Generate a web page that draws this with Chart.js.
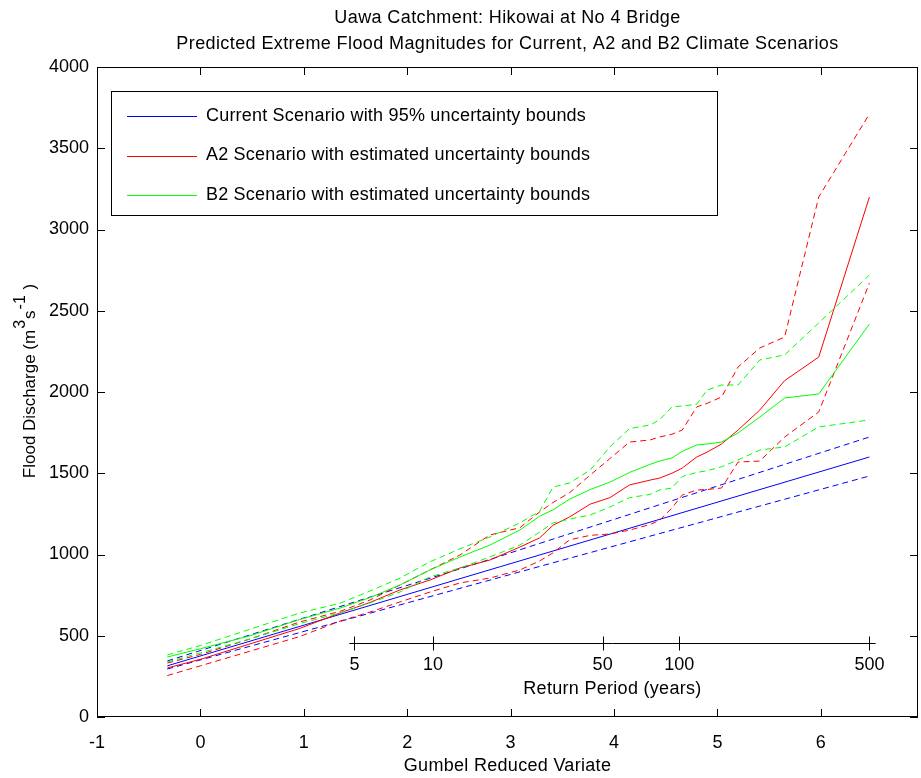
<!DOCTYPE html>
<html>
<head>
<meta charset="utf-8">
<script src="https://cdn.jsdelivr.net/npm/chart.js@4.4.1/dist/chart.umd.min.js"></script>
<style>
html, body { margin: 0; padding: 0; background: #fff; }
#wrap { width: 921px; height: 778px; }
</style>
</head>
<body>
<div id="wrap"><canvas id="chart" width="921" height="778"></canvas></div>
<script>
// Gumbel reduced variate positions of the scenario estimates
const gumbelX = [-0.32, 0, 0.48, 0.96, 1.35, 1.64, 1.93, 2.22, 2.51, 2.80, 3.09, 3.28, 3.41, 3.57, 3.77, 3.96, 4.15, 4.35, 4.44, 4.56, 4.66, 4.80, 4.90, 5.04, 5.20, 5.41, 5.65, 5.98, 6.47];

// A2 scenario (m3/s)
const a2Upper = [332, 385, 480, 585, 650, 720, 812, 905, 997, 1120, 1165, 1262, 1320, 1380, 1489, 1590, 1692, 1705, 1723, 1740, 1766, 1908, 1930, 1969, 2154, 2271, 2338, 3200, 3711];
const a2Mid   = [302, 355, 450, 545, 640, 705, 782, 843, 917, 966, 1046, 1102, 1180, 1231, 1310, 1350, 1428, 1458, 1470, 1500, 1532, 1600, 1630, 1680, 1766, 1889, 2070, 2215, 3200];
const a2Lower = [255, 315, 405, 495, 590, 646, 708, 769, 825, 855, 905, 960, 1010, 1090, 1118, 1126, 1150, 1185, 1210, 1286, 1366, 1397, 1400, 1409, 1569, 1575, 1723, 1877, 2670];

// B2 scenario (m3/s)
const b2Upper = [382, 440, 540, 640, 700, 775, 855, 955, 1035, 1108, 1195, 1265, 1415, 1440, 1520, 1662, 1775, 1797, 1828, 1908, 1914, 1925, 2012, 2043, 2043, 2197, 2228, 2425, 2720];
const b2Mid   = [369, 420, 500, 600, 670, 735, 812, 905, 985, 1058, 1151, 1235, 1275, 1340, 1400, 1445, 1505, 1555, 1575, 1594, 1635, 1674, 1680, 1692, 1748, 1846, 1963, 1988, 2418];
const b2Lower = [338, 395, 480, 575, 640, 702, 769, 862, 917, 985, 1058, 1138, 1194, 1218, 1243, 1292, 1350, 1370, 1397, 1409, 1480, 1505, 1515, 1540, 1582, 1643, 1662, 1785, 1828];

// Current scenario (straight Gumbel fit)
const currentX     = [-0.32, 2.9, 6.47];
const currentUpper = [345, 990, 1723];
const currentMid   = [315, 925, 1600];
const currentLower = [295, 860, 1483];

// Return period scale drawn inside the plot
const returnPeriods   = ['5', '10', '50', '100', '500'];
const returnPeriodPos = [1.49, 2.25, 3.89, 4.63, 6.47];
const returnAxisRange = [1.44, 6.53];
const returnAxisValue = 455;

const legendLabels = [
	'Current Scenario with 95% uncertainty bounds',
	'A2 Scenario with estimated uncertainty bounds',
	'B2 Scenario with estimated uncertainty bounds'
];

const BLUE = '#0000ff', RED = '#ff0000', GREEN = '#00ff00';
const FONT = '"Liberation Sans", Arial, Helvetica, sans-serif';
const FS = 18;
const DASH = [6, 4];

const pts = (xs, ys) => xs.map((x, i) => ({ x, y: ys[i] }));
const line = (data, color, dashed) => ({
	data, borderColor: color, backgroundColor: color, borderWidth: 1,
	borderDash: dashed ? DASH : [], pointRadius: 0, showLine: true, tension: 0, fill: false
});

const decor = {
	id: 'decor',
	afterDatasetsDraw(chart) {
		const ctx = chart.ctx, a = chart.chartArea;
		const xs = chart.scales.x, ys = chart.scales.y;
		ctx.save();
		ctx.strokeStyle = '#000';
		ctx.lineWidth = 1;
		ctx.setLineDash([]);
		// frame
		ctx.strokeRect(Math.round(a.left) + 0.5, Math.round(a.top) + 0.5, Math.round(a.right - a.left) - 1, Math.round(a.bottom - a.top) - 1);
		// inward ticks
		ctx.beginPath();
		xs.ticks.forEach(t => {
			const px = Math.round(xs.getPixelForValue(t.value)) + 0.5;
			ctx.moveTo(px, a.bottom); ctx.lineTo(px, a.bottom - 8);
			ctx.moveTo(px, a.top); ctx.lineTo(px, a.top + 8);
		});
		ys.ticks.forEach(t => {
			const py = Math.round(ys.getPixelForValue(t.value)) + 0.5;
			ctx.moveTo(a.left, py); ctx.lineTo(a.left + 8, py);
			ctx.moveTo(a.right, py); ctx.lineTo(a.right - 8, py);
		});
		ctx.stroke();

		// return period axis
		const ry = Math.round(ys.getPixelForValue(returnAxisValue)) + 0.5;
		ctx.beginPath();
		ctx.moveTo(xs.getPixelForValue(returnAxisRange[0]), ry);
		ctx.lineTo(xs.getPixelForValue(returnAxisRange[1]), ry);
		returnPeriodPos.forEach(v => {
			const px = Math.round(xs.getPixelForValue(v)) + 0.5;
			ctx.moveTo(px, ry - 7); ctx.lineTo(px, ry + 7);
		});
		ctx.stroke();
		ctx.fillStyle = '#000';
		ctx.font = FS + 'px ' + FONT;
		ctx.textAlign = 'center';
		ctx.textBaseline = 'middle';
		returnPeriods.forEach((lab, i) => ctx.fillText(lab, xs.getPixelForValue(returnPeriodPos[i]), ry + 22));
		ctx.letterSpacing = '0.3px';
		ctx.fillText('Return Period (years)', xs.getPixelForValue((returnAxisRange[0] + returnAxisRange[1]) / 2), ry + 46);

		// titles
		const cx = (a.left + a.right) / 2;
		ctx.fillText('Gumbel Reduced Variate', cx, 766);
		ctx.letterSpacing = '0.4px';
		ctx.fillText('Uawa Catchment: Hikowai at No 4 Bridge', cx, 18);
		ctx.fillText('Predicted Extreme Flood Magnitudes for Current, A2 and B2 Climate Scenarios', cx, 44);
		ctx.letterSpacing = '0px';

		// y axis title with superscripts
		ctx.save();
		ctx.translate(30, 381);
		ctx.rotate(-Math.PI / 2);
		const parts = [['Flood Discharge (m', 0], ['3', 1], ['s', 0], ['-1', 1], [' )', 0]];
		const fnt = p => (p[1] ? 16 : 17) + 'px ' + FONT;
		let total = 0;
		parts.forEach(p => { ctx.font = fnt(p); total += ctx.measureText(p[0]).width + (p[1] ? 2 : 0); });
		let x0 = -total / 2;
		ctx.textAlign = 'left';
		parts.forEach(p => {
			ctx.font = fnt(p);
			ctx.fillText(p[0], x0 + (p[1] ? 1 : 0), p[1] ? -9 : 0);
			x0 += ctx.measureText(p[0]).width + (p[1] ? 2 : 0);
		});
		ctx.restore();

		// legend
		const lx = 111, ly = 91, lw = 606, lh = 124;
		ctx.fillStyle = '#fff';
		ctx.fillRect(lx, ly, lw, lh);
		ctx.strokeStyle = '#000';
		ctx.strokeRect(lx + 0.5, ly + 0.5, lw, lh);
		const colors = [BLUE, RED, GREEN];
		ctx.textAlign = 'left';
		ctx.font = FS + 'px ' + FONT;
		ctx.letterSpacing = '0.2px';
		legendLabels.forEach((lab, i) => {
			const yy = 116 + i * 39.5;
			ctx.strokeStyle = colors[i];
			ctx.beginPath();
			ctx.moveTo(127, Math.round(yy) + 0.5); ctx.lineTo(197, Math.round(yy) + 0.5);
			ctx.stroke();
			ctx.fillStyle = '#000';
			ctx.fillText(lab, 206, yy);
		});
		ctx.letterSpacing = '0px';
		ctx.restore();
	}
};

new Chart(document.getElementById('chart').getContext('2d'), {
	type: 'scatter',
	data: {
		datasets: [
			line(pts(gumbelX, b2Mid), GREEN, false),
			line(pts(gumbelX, b2Upper), GREEN, true),
			line(pts(gumbelX, b2Lower), GREEN, true),
			line(pts(gumbelX, a2Mid), RED, false),
			line(pts(gumbelX, a2Upper), RED, true),
			line(pts(gumbelX, a2Lower), RED, true),
			line(pts(currentX, currentMid), BLUE, false),
			line(pts(currentX, currentUpper), BLUE, true),
			line(pts(currentX, currentLower), BLUE, true)
		]
	},
	options: {
		responsive: false,
		animation: false,
		devicePixelRatio: 1,
		layout: { padding: { top: 67, right: 3, left: 0, bottom: 0 } },
		plugins: { legend: { display: false }, tooltip: { enabled: false }, title: { display: false } },
		scales: {
			x: {
				type: 'linear', min: -1, max: 6.94,
				grid: { display: false }, border: { display: false },
				ticks: { stepSize: 1, includeBounds: false, color: '#000', padding: 7, maxRotation: 0, font: { family: FONT, size: FS } },
				afterFit: s => { s.height = 61; }
			},
			y: {
				type: 'linear', min: 0, max: 4000,
				grid: { display: false }, border: { display: false },
				ticks: { stepSize: 500, color: '#000', padding: 0, font: { family: FONT, size: FS }, callback: v => String(v) },
				afterFit: s => { s.width = 97; }
			}
		}
	},
	plugins: [decor]
});
</script>
</body>
</html>
